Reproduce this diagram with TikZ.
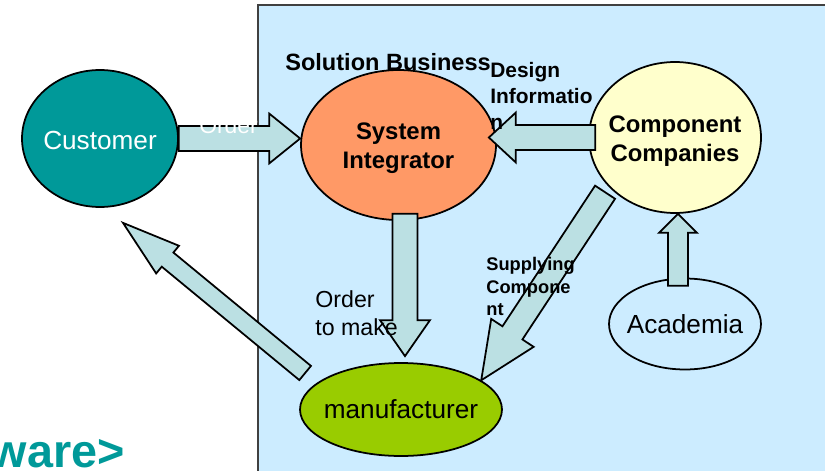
\documentclass[tikz,border=0pt]{standalone}
\usepackage{fontspec}
\setmainfont{Liberation Sans}
\usetikzlibrary{calc,shapes.geometric}

\definecolor{panel}{HTML}{CCECFF}
\definecolor{arrowfill}{HTML}{BBE0E3}
\definecolor{custcol}{HTML}{009999}
\definecolor{sicol}{HTML}{FF9966}
\definecolor{compcol}{HTML}{FFFFCC}
\definecolor{mancol}{HTML}{99CC00}

\tikzset{
  party/.style={ellipse, draw=black, line width=1pt, inner sep=0pt},
  blockarr/.style={draw=black, line width=1pt, fill=arrowfill, line join=miter},
}

\def\pxs{0.5669pt}   %one pixel of the picture.

% Block arrow: from, to, shaft half-width, head half-width, head length (pixels)
\newcommand{\blockarrow}[5]{%
  \draw[blockarr] let \p1=($(#2)-(#1)$), \n1={atan2(\y1,\x1)}, \n2={veclen(\x1,\y1)} in
    [shift={(#1)}, rotate=\n1]
    (0pt,{-#3*\pxs}) -- ({\n2-#5*\pxs},{-#3*\pxs}) -- ({\n2-#5*\pxs},{-#4*\pxs})
    -- (\n2,0pt) -- ({\n2-#5*\pxs},{#4*\pxs}) -- ({\n2-#5*\pxs},{#3*\pxs})
    -- (0pt,{#3*\pxs}) -- cycle;
}

\begin{document}
\begin{tikzpicture}[x=0.02cm,y=-0.02cm]
\useasboundingbox (0,0) rectangle (825,470);
\clip (0,0) rectangle (825,470);

% Solution business panel
\draw[fill=panel, draw=black!75, line width=1.1pt] (258,5) rectangle (840,480);

% Parties
\node[party, fill=custcol, minimum width=3.12cm, minimum height=2.74cm,
  label={[text=white, yshift=-1pt, font=\fontsize{14.9}{17.6}\selectfont]center:Customer}] (cust) at (100,138.5) {};
\node[party, fill=sicol, minimum width=3.9cm, minimum height=3cm,
  label={[align=center, yshift=-2pt, font=\bfseries\fontsize{13.6}{16.4}\selectfont]center:System\\Integrator}] (si) at (398.5,145) {};
\node[party, fill=compcol, minimum width=3.44cm, minimum height=3.02cm,
  label={[align=center, yshift=-2.2pt, font=\bfseries\fontsize{13.6}{16.4}\selectfont]center:Component\\Companies}] (comp) at (675,137.5) {};
\node[party, fill=panel, minimum width=3.04cm, minimum height=1.82cm,
  label={[font=\fontsize{14.9}{17.6}\selectfont]center:Academia}] (acad) at (685,324) {};
\node[party, fill=mancol, minimum width=4.04cm, minimum height=1.86cm,
  label={[font=\fontsize{14.9}{17.6}\selectfont]center:manufacturer}] (man) at (401,409.5) {};

% Arrow ends
\coordinate (c2s) at (si.west |- cust.east);
\coordinate (p2s0) at ($(comp.west)+(7,0)$);
\coordinate (p2s1) at ($(si.east |- comp.west)+(-8,0)$);
\coordinate (s2m0) at ($(si.south)+(6.5,-7)$);
\coordinate (s2m1) at ($(man.north)+(4,-6)$);
\coordinate (p2m0) at ($(comp.218)+(-5,4)$);
\coordinate (a2p0) at ($(acad.north)+(-7,8)$);
\coordinate (a2p1) at ($(comp.south)+(3,0)$);
\coordinate (m2c0) at ($(man.west)+(6,-36.5)$);
\coordinate (m2c1) at ($(cust.south)+(23,15)$);

% Flows
\blockarrow{cust.east}{c2s}{12.5}{25}{31}
\blockarrow{p2s0}{p2s1}{12.5}{25}{27}
\blockarrow{s2m0}{s2m1}{12.5}{25}{36}
\blockarrow{p2m0}{man.20}{12}{25.5}{57}
\blockarrow{a2p0}{a2p1}{10}{19}{19}
\blockarrow{m2c0}{m2c1}{9.2}{18}{58}

% Labels
\node[anchor=base west, inner sep=0pt, font=\bfseries\fontsize{13.4}{15}\selectfont] (solbiz) at (285,71) {Solution Business};
\node[anchor=north west, align=left, inner sep=0pt, font=\bfseries\fontsize{11.9}{14.7}\selectfont] (desinfo) at (490,62) {Design\\Informatio\\n};
\node[anchor=north west, align=left, inner sep=0pt, font=\bfseries\fontsize{10.4}{12.8}\selectfont] (supply) at (486,257) {Supplying\\Compone\\nt};
\node[anchor=north west, align=left, inner sep=0pt, font=\fontsize{13.2}{15.9}\selectfont] (ordmake) at (315,290) {Order\\to make};
\node[anchor=base west, inner sep=0pt, text=white, font=\fontsize{13}{15}\selectfont] (ordtxt) at (199,133) {Order};
\node[anchor=base east, inner sep=0pt, text=custcol, font=\bfseries\fontsize{26.6}{30}\selectfont] (ware) at (125,467) {ware>};

\end{tikzpicture}
\end{document}
